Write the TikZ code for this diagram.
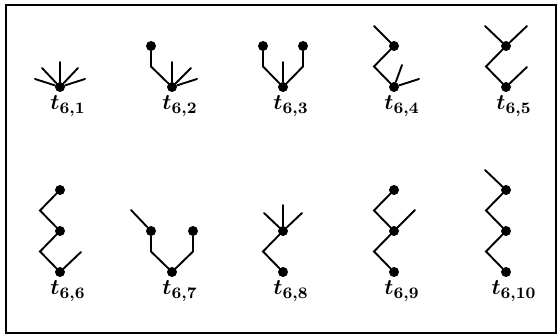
\documentclass[tikz,border=0pt]{standalone}
\usepackage{amsmath,amssymb}
\usepackage{xcolor}
\usepackage{tikz}
\usetikzlibrary{calc}
\tikzset{
  edge/.style={draw=black, line width=0.95pt, line cap=round, line join=miter},
  dot/.style={circle, fill=black, inner sep=0pt, minimum size=5pt},
  lab/.style={anchor=base, font=\fontsize{11}{13}\selectfont\boldmath},
  frame/.style={draw=black, line width=0.8pt}
}

\begin{document}
\begin{tikzpicture}[x=0.5pt,y=-0.5pt]
  \useasboundingbox (0,0) rectangle (558,335);
  \draw[frame] (6,5) rectangle (556,333);

  % t_{6,1}
  \node[dot] (r1) at (60,87) {};
  \foreach \a/\b [count=\i] in {-25/-8,-18/-19,0/-25,18/-19,25/-8} {
    \coordinate (f1\i) at ($(r1)+(\a,\b)$);
    \draw[edge] (r1) -- (f1\i);
  }
  \node[lab] (t1) at ($(r1)+(8,23)$) {$t_{6,1}$};

  % t_{6,2}
  \node[dot] (r2) at (172,87) {};
  \coordinate (e2) at ($(r2)+(-21,-20.5)$);
  \node[dot] (d2) at ($(r2)+(-21,-41)$) {};
  \draw[edge] (r2) -- (e2) -- (d2);
  \foreach \a/\b [count=\i] in {0/-25,19/-19,25/-8} {
    \coordinate (f2\i) at ($(r2)+(\a,\b)$);
    \draw[edge] (r2) -- (f2\i);
  }
  \node[lab] (t2) at ($(r2)+(8,23)$) {$t_{6,2}$};

  % t_{6,3}
  \node[dot] (r3) at (283,87) {};
  \coordinate (e3a) at ($(r3)+(-20,-20.5)$);
  \coordinate (e3b) at ($(r3)+(20,-20.5)$);
  \node[dot] (d3a) at ($(r3)+(-20,-41)$) {};
  \node[dot] (d3b) at ($(r3)+(20,-41)$) {};
  \coordinate (f3) at ($(r3)+(0,-25)$);
  \draw[edge] (r3) -- (e3a) -- (d3a);
  \draw[edge] (r3) -- (e3b) -- (d3b);
  \draw[edge] (r3) -- (f3);
  \node[lab] (t3) at ($(r3)+(8,23)$) {$t_{6,3}$};

  % t_{6,4}
  \node[dot] (r4) at (394,87) {};
  \coordinate (e4) at ($(r4)+(-20,-20.5)$);
  \node[dot] (d4) at ($(r4)+(0,-41)$) {};
  \coordinate (f4a) at ($(d4)+(-20,-20)$);
  \coordinate (f4b) at ($(r4)+(8,-22)$);
  \coordinate (f4c) at ($(r4)+(25,-8)$);
  \draw[edge] (r4) -- (e4) -- (d4);
  \draw[edge] (d4) -- (f4a);
  \draw[edge] (r4) -- (f4b);
  \draw[edge] (r4) -- (f4c);
  \node[lab] (t4) at ($(r4)+(8,23)$) {$t_{6,4}$};

  % t_{6,5}
  \node[dot] (r5) at (506,87) {};
  \coordinate (e5) at ($(r5)+(-20,-20.5)$);
  \node[dot] (d5) at ($(r5)+(0,-41)$) {};
  \coordinate (f5a) at ($(d5)+(-21,-20)$);
  \coordinate (f5b) at ($(d5)+(21,-20)$);
  \coordinate (f5c) at ($(r5)+(21,-20)$);
  \draw[edge] (r5) -- (e5) -- (d5);
  \draw[edge] (d5) -- (f5a);
  \draw[edge] (d5) -- (f5b);
  \draw[edge] (r5) -- (f5c);
  \node[lab] (t5) at ($(r5)+(8,23)$) {$t_{6,5}$};

  % t_{6,6}
  \node[dot] (r6) at (60,272) {};
  \coordinate (e6a) at ($(r6)+(-20,-20.5)$);
  \node[dot] (d6a) at ($(r6)+(0,-41)$) {};
  \coordinate (e6b) at ($(d6a)+(-20,-20.5)$);
  \node[dot] (d6b) at ($(d6a)+(0,-41)$) {};
  \coordinate (f6) at ($(r6)+(21,-20)$);
  \draw[edge] (r6) -- (e6a) -- (d6a) -- (e6b) -- (d6b);
  \draw[edge] (r6) -- (f6);
  \node[lab] (t6) at ($(r6)+(8,23)$) {$t_{6,6}$};

  % t_{6,7}
  \node[dot] (r7) at (172,272) {};
  \coordinate (e7a) at ($(r7)+(-21,-20.5)$);
  \coordinate (e7b) at ($(r7)+(21,-20.5)$);
  \node[dot] (d7a) at ($(r7)+(-21,-41)$) {};
  \node[dot] (d7b) at ($(r7)+(21,-41)$) {};
  \coordinate (f7) at ($(d7a)+(-20,-21)$);
  \draw[edge] (r7) -- (e7a) -- (d7a);
  \draw[edge] (r7) -- (e7b) -- (d7b);
  \draw[edge] (d7a) -- (f7);
  \node[lab] (t7) at ($(r7)+(8,23)$) {$t_{6,7}$};

  % t_{6,8}
  \node[dot] (r8) at (283,272) {};
  \coordinate (e8) at ($(r8)+(-20,-20.5)$);
  \node[dot] (d8) at ($(r8)+(0,-41)$) {};
  \draw[edge] (r8) -- (e8) -- (d8);
  \foreach \a/\b [count=\i] in {-19/-18,0/-26,19/-18} {
    \coordinate (f8\i) at ($(d8)+(\a,\b)$);
    \draw[edge] (d8) -- (f8\i);
  }
  \node[lab] (t8) at ($(r8)+(8,23)$) {$t_{6,8}$};

  % t_{6,9}
  \node[dot] (r9) at (394,272) {};
  \coordinate (e9a) at ($(r9)+(-20,-20.5)$);
  \node[dot] (d9a) at ($(r9)+(0,-41)$) {};
  \coordinate (e9b) at ($(d9a)+(-20,-20.5)$);
  \node[dot] (d9b) at ($(d9a)+(0,-41)$) {};
  \coordinate (f9) at ($(d9a)+(21,-21)$);
  \draw[edge] (r9) -- (e9a) -- (d9a) -- (e9b) -- (d9b);
  \draw[edge] (d9a) -- (f9);
  \node[lab] (t9) at ($(r9)+(8,23)$) {$t_{6,9}$};

  % t_{6,10}
  \node[dot] (r10) at (506,272) {};
  \coordinate (e10a) at ($(r10)+(-20,-20.5)$);
  \node[dot] (d10a) at ($(r10)+(0,-41)$) {};
  \coordinate (e10b) at ($(d10a)+(-20,-20.5)$);
  \node[dot] (d10b) at ($(d10a)+(0,-41)$) {};
  \coordinate (f10) at ($(d10b)+(-21,-20)$);
  \draw[edge] (r10) -- (e10a) -- (d10a) -- (e10b) -- (d10b);
  \draw[edge] (d10b) -- (f10);
  \node[lab] (t10) at ($(r10)+(8,23)$) {$t_{6,10}$};
\end{tikzpicture}
\end{document}
